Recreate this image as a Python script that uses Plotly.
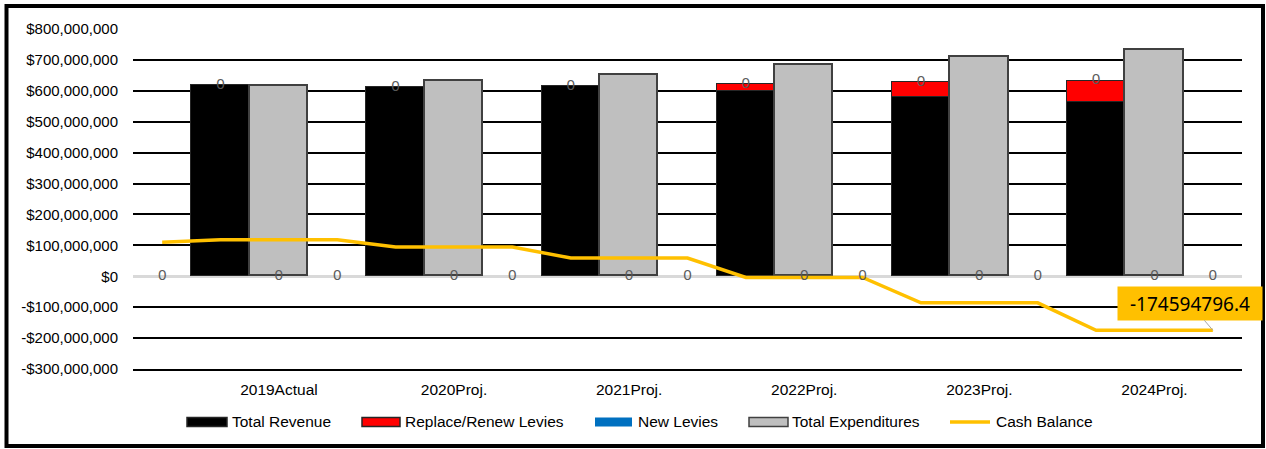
import plotly.graph_objects as go

# ---- data ----
years = ["2019Actual", "2020Proj.", "2021Proj.", "2022Proj.", "2023Proj.", "2024Proj."]
total_revenue = [618e6, 612e6, 615e6, 600e6, 580e6, 563e6]
replace_renew = [0, 0, 0, 22e6, 47e6, 70e6]
new_levies = [0, 0, 0, 0, 0, 0]
total_expenditures = [614e6, 632e6, 651e6, 685e6, 710e6, 732e6]
# cash balance at 19 category slots (opening point + 3 slots per year)
cash_balance = [110e6, 118e6, 118e6, 118e6, 95e6, 95e6, 95e6, 59e6, 59e6, 59e6,
                -4e6, -4e6, -4e6, -86e6, -86e6, -86e6,
                -174594796.4, -174594796.4, -174594796.4]
# zero-valued data labels shown at each slot
slot_labels = [0] * 19
y_ticks = [800e6, 700e6, 600e6, 500e6, 400e6, 300e6, 200e6, 100e6, 0,
           -100e6, -200e6, -300e6]
y_tick_text = ["$800,000,000", "$700,000,000", "$600,000,000", "$500,000,000",
               "$400,000,000", "$300,000,000", "$200,000,000", "$100,000,000",
               "$0", "-$100,000,000", "-$200,000,000", "-$300,000,000"]
legend_names = ["Total Revenue", "Replace/Renew Levies", "New Levies",
                "Total Expenditures", "Cash Balance"]

# ---- geometry ----
W, H = 1266, 449
ML, MR, MT, MB = 133, 24, 29, 80
PW, PH = W - ML - MR, H - MT - MB


def px_x(px):
    return (px - ML) / PW


def px_y(py):
    return (H - MB - py) / PH


n_slots = len(cash_balance)
rev_x = [3 * k + 1 for k in range(len(years))]
exp_x = [3 * k + 2 for k in range(len(years))]
slots = list(range(n_slots))

AX_FONT = "Liberation Sans, Arial, sans-serif"
LBL_FONT = "Noto Sans, Carlito, sans-serif"

COL_REV, COL_REP, COL_NEW, COL_EXP, COL_CASH = "#000000", "#FF0000", "#0070C0", "#BFBFBF", "#FFC000"

fig = go.Figure()
fig.add_trace(go.Bar(x=rev_x, y=total_revenue, name=legend_names[0], width=1,
                     marker=dict(color=COL_REV, line=dict(color="#262626", width=1))))
fig.add_trace(go.Bar(x=rev_x, y=replace_renew, name=legend_names[1], width=1,
                     marker=dict(color=COL_REP, line=dict(color="#262626", width=1))))
fig.add_trace(go.Bar(x=rev_x, y=new_levies, name=legend_names[2], width=1,
                     marker=dict(color=COL_NEW, line=dict(width=0))))
fig.add_trace(go.Bar(x=exp_x, y=total_expenditures, name=legend_names[3], width=1,
                     marker=dict(color=COL_EXP, line=dict(color="#404040", width=1.8))))
fig.add_trace(go.Scatter(x=slots, y=cash_balance, name=legend_names[4], mode="lines",
                         line=dict(color=COL_CASH, width=3.5)))

# zero data labels: at top of revenue stack on revenue slots, else at zero
stack_top = {x: r + p + n for x, r, p, n in zip(rev_x, total_revenue, replace_renew, new_levies)}
lab_y = [stack_top.get(s, 0) for s in slots]
fig.add_trace(go.Scatter(x=slots, y=lab_y, mode="text", showlegend=False,
                         text=[f"{v}" for v in slot_labels], textposition="middle center",
                         textfont=dict(family=LBL_FONT, size=15, color="#595959"),
                         hoverinfo="skip"))

# data label for final cash balance
fig.add_annotation(x=slots[-1], y=cash_balance[-1], text=f"{cash_balance[-1]}",
                   showarrow=True, arrowhead=0, arrowwidth=1, arrowcolor="#A6A6A6",
                   ax=-23, ay=-27, bgcolor=COL_CASH, borderpad=3,
                   width=138, height=27,
                   font=dict(family=LBL_FONT, size=19, color="#000000"))

# custom Excel-style legend
sw_left = [187, 362, 595, 749, 950]
txt_left = [230, 403, 636, 790, 994]
sw_w = [40, 38, 37, 39, 40]
leg_y = 422
sw_cols = [COL_REV, COL_REP, COL_NEW, COL_EXP, COL_CASH]
sw_border = ["#262626", "#262626", None, "#404040", None]
for i, name in enumerate(legend_names):
    if i == 4:
        fig.add_shape(type="line", xref="paper", yref="paper",
                      x0=px_x(sw_left[i]), x1=px_x(sw_left[i] + sw_w[i]),
                      y0=px_y(leg_y), y1=px_y(leg_y),
                      line=dict(color=sw_cols[i], width=3.5))
    else:
        fig.add_shape(type="rect", xref="paper", yref="paper",
                      x0=px_x(sw_left[i]), x1=px_x(sw_left[i] + sw_w[i]),
                      y0=px_y(leg_y + 4.5), y1=px_y(leg_y - 4.5),
                      fillcolor=sw_cols[i],
                      line=dict(color=sw_border[i] or sw_cols[i], width=1.5 if sw_border[i] else 0))
    fig.add_annotation(xref="paper", yref="paper", x=px_x(txt_left[i]), y=px_y(leg_y),
                       xanchor="left", yanchor="middle", showarrow=False, text=name,
                       font=dict(family=AX_FONT, size=15.5, color="#000000"))

# outer chart frame
fig.add_shape(type="rect", xref="paper", yref="paper",
              x0=px_x(6.5), x1=px_x(1263), y0=px_y(446), y1=px_y(6),
              line=dict(color="#000000", width=4), layer="above")

fig.update_layout(
    width=W, height=H,
    margin=dict(l=ML, r=MR, t=MT, b=MB, autoexpand=False),
    paper_bgcolor="white", plot_bgcolor="white",
    barmode="stack", bargap=0, showlegend=False,
    font=dict(family=AX_FONT, size=15, color="#000000"),
    xaxis=dict(range=[-0.5, n_slots - 0.5], tickvals=exp_x, ticktext=years,
               showgrid=False, zeroline=False,
               showline=True, linecolor="#000000", linewidth=1.6,
               ticks="outside", ticklen=6, tickcolor="rgba(0,0,0,0)",
               tickfont=dict(family=AX_FONT, size=15.5, color="#000000")),
    yaxis=dict(range=[-300e6, 800e6], tickvals=y_ticks, ticktext=y_tick_text,
               showgrid=True, gridcolor="#000000", gridwidth=1.6,
               zeroline=True, zerolinecolor="#D9D9D9", zerolinewidth=2.5,
               showline=False, ticks="outside", ticklen=11, tickcolor="rgba(0,0,0,0)",
               tickfont=dict(family=AX_FONT, size=15, color="#000000")),
)

fig.write_html("out.html", config={"displayModeBar": False},
               post_script="document.body.style.margin='0';document.body.style.overflow='hidden';")
